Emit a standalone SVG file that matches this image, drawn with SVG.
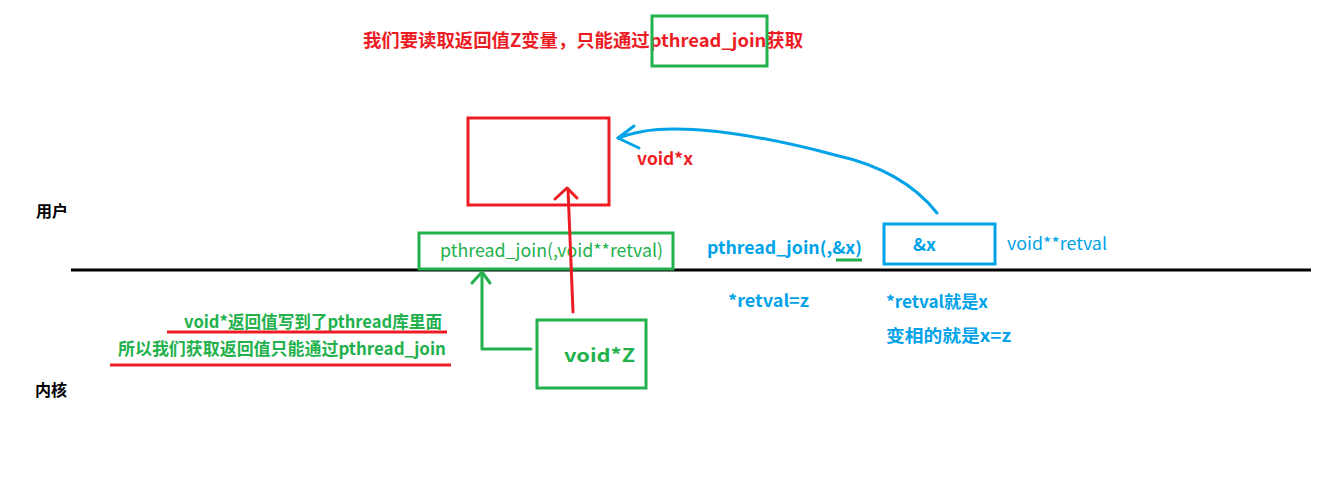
<svg xmlns="http://www.w3.org/2000/svg" width="1320" height="477" viewBox="0 0 1320 477">
<defs>
<style>
.t{font-family:"Noto Sans CJK SC","Noto Sans",sans-serif;}
.b{font-weight:bold;}
.red{fill:#ed1c24;}
.grn{fill:#22b14c;}
.blu{fill:#00a2e8;}
.blk{fill:#000;}
.box{fill:none;stroke-width:3;}
.ln{fill:none;stroke-width:3;stroke-linecap:round;stroke-linejoin:round;}
</style>
</defs>
<rect width="1320" height="477" fill="#fff"/>
<line x1="71" y1="270" x2="1311" y2="270" stroke="#000" stroke-width="3"/>
<text class="t b blk" x="36" y="217" font-size="16">用户</text>
<text class="t b blk" x="35" y="396" font-size="16">内核</text>
<g id="title">
<text class="t b red" x="363" y="47" font-size="18" textLength="440" lengthAdjust="spacingAndGlyphs">我们要读取返回值Z变量，只能通过pthread_join获取</text>
<rect class="box" x="652" y="16" width="115" height="50" stroke="#22b14c"/>
</g>
<g id="userbox">
<rect class="box" x="468" y="118" width="141" height="87" stroke="#ed1c24"/>
<text class="t b red" x="637" y="165" font-size="17" textLength="56" lengthAdjust="spacingAndGlyphs">void*x</text>
</g>
<g id="joinbox">
<rect class="box" x="419" y="233" width="254" height="36" stroke="#22b14c"/>
<text class="t grn" x="440" y="257" font-size="18" textLength="223" lengthAdjust="spacingAndGlyphs">pthread_join(,void**retval)</text>
</g>
<g id="joincall">
<text class="t b blu" x="707" y="254" font-size="17" textLength="155" lengthAdjust="spacingAndGlyphs">pthread_join(,&amp;x)</text>
<line x1="836" y1="260" x2="862" y2="260" stroke="#22b14c" stroke-width="3"/>
</g>
<g id="addrbox">
<rect class="box" x="884" y="224" width="111" height="40" stroke="#00a2e8"/>
<text class="t b blu" x="913" y="251" font-size="17" textLength="23" lengthAdjust="spacingAndGlyphs">&amp;x</text>
<text class="t blu" x="1007" y="250" font-size="17" textLength="100" lengthAdjust="spacingAndGlyphs">void**retval</text>
</g>
<g id="zbox">
<rect class="box" x="537" y="320" width="109" height="68" stroke="#22b14c"/>
<text class="t b grn" x="564" y="362" font-size="18" textLength="71" lengthAdjust="spacingAndGlyphs">void*Z</text>
</g>
<g id="notes">
<text class="t b grn" x="184" y="328" font-size="17" textLength="258" lengthAdjust="spacingAndGlyphs">void*返回值写到了pthread库里面</text>
<line x1="167" y1="332" x2="447" y2="332" stroke="#ed1c24" stroke-width="3"/>
<text class="t b grn" x="118" y="355" font-size="17" textLength="328" lengthAdjust="spacingAndGlyphs">所以我们获取返回值只能通过pthread_join</text>
<line x1="110" y1="365" x2="451" y2="365" stroke="#ed1c24" stroke-width="3"/>
<text class="t b blu" x="728" y="307" font-size="17" textLength="81" lengthAdjust="spacingAndGlyphs">*retval=z</text>
<text class="t b blu" x="886" y="308" font-size="17" textLength="102" lengthAdjust="spacingAndGlyphs">*retval就是x</text>
<text class="t b blu" x="886" y="342" font-size="17" textLength="125" lengthAdjust="spacingAndGlyphs">变相的就是x=z</text>
</g>
<g id="connectors">
<path class="ln" stroke="#00a2e8" d="M937,213 C915,185 880,165 835,155 C790,143 740,133 700,130 C670,128 645,128 618,138"/>
<path class="ln" stroke="#00a2e8" d="M634,126 L618,138 L639,148"/>
<path class="ln" stroke="#ed1c24" d="M573,312 L568,189"/>
<path class="ln" stroke="#ed1c24" d="M555,199 L567,188 L577,198"/>
<path class="ln" stroke="#22b14c" d="M531,349 L482,349 L482,272"/>
<path class="ln" stroke="#22b14c" d="M472,283 L482,272 L490,283"/>
</g>
</svg>
